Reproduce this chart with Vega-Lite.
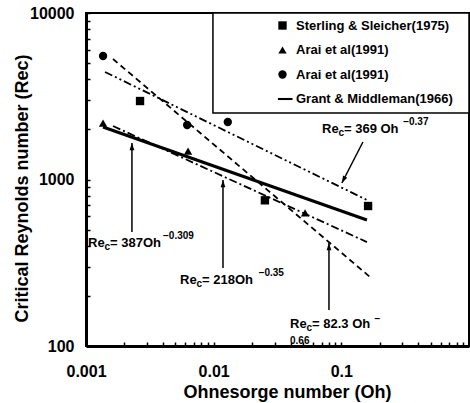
{
  "$schema": "https://vega.github.io/schema/vega-lite/v6.json",
  "width": 383,
  "height": 333,
  "autosize": {"type": "none"},
  "padding": {"left": 86, "top": 13, "right": 1, "bottom": 57},
  "background": "white",
  "config": {
    "font": "Liberation Sans",
    "view": {"stroke": "black", "strokeWidth": 2},
    "axis": {
      "grid": false,
      "domainColor": "black",
      "domainWidth": 3,
      "tickColor": "black",
      "tickWidth": 1.5,
      "tickSize": -4,
      "labelColor": "black",
      "labelFont": "Liberation Sans",
      "labelFontSize": 16,
      "labelFontWeight": "bold",
      "titleColor": "black",
      "titleFont": "Liberation Sans",
      "titleFontSize": 18,
      "titleFontWeight": "bold"
    }
  },
  "datasets": {
    "points": [
      {"series": "Sterling & Sleicher(1975)", "Oh": 0.00265, "Re": 2960},
      {"series": "Sterling & Sleicher(1975)", "Oh": 0.0252, "Re": 750},
      {"series": "Sterling & Sleicher(1975)", "Oh": 0.162, "Re": 693},
      {"series": "Arai et al(1991) [tri]", "Oh": 0.00136, "Re": 2180},
      {"series": "Arai et al(1991) [tri]", "Oh": 0.0063, "Re": 1480},
      {"series": "Arai et al(1991) [tri]", "Oh": 0.052, "Re": 630},
      {"series": "Arai et al(1991) [circ]", "Oh": 0.00136, "Re": 5520},
      {"series": "Arai et al(1991) [circ]", "Oh": 0.0062, "Re": 2125},
      {"series": "Arai et al(1991) [circ]", "Oh": 0.0129, "Re": 2214}
    ],
    "lines": [
      {"series": "grant", "Oh": 0.001359, "Re": 2067},
      {"series": "grant", "Oh": 0.1587, "Re": 571},
      {"series": "fit369", "Oh": 0.00141, "Re": 4425},
      {"series": "fit369", "Oh": 0.1587, "Re": 753},
      {"series": "fit218", "Oh": 0.001627, "Re": 2096},
      {"series": "fit218", "Oh": 0.1587, "Re": 421},
      {"series": "fit82", "Oh": 0.001627, "Re": 5295},
      {"series": "fit82", "Oh": 0.1675, "Re": 260}
    ],
    "arrows": [
      {"Oh": 0.00229, "Re": 484, "Oh2": 0.00229, "Re2": 1656},
      {"Oh": 0.01183, "Re": 294, "Oh2": 0.01183, "Re2": 993},
      {"Oh": 0.080, "Re": 164.5, "Oh2": 0.080, "Re2": 415},
      {"Oh": 0.1476, "Re": 1680, "Oh2": 0.101, "Re2": 953}
    ],
    "heads_up": [
      {"Oh": 0.00229, "Re": 1656},
      {"Oh": 0.01183, "Re": 993},
      {"Oh": 0.080, "Re": 415}
    ],
    "heads_diag": [
      {"Oh": 0.101, "Re": 953}
    ],
    "labels_main": [
      {"Oh": 0.001037, "Re": 415.5, "t": "Re"},
      {"Oh": 0.001542, "Re": 415.5, "t": "= 387Oh"},
      {"Oh": 0.005449, "Re": 249.1, "t": "Re"},
      {"Oh": 0.008102, "Re": 249.1, "t": "=  218Oh"},
      {"Oh": 0.03962, "Re": 135.6, "t": "Re"},
      {"Oh": 0.05893, "Re": 135.6, "t": "=  82.3 Oh"},
      {"Oh": 0.07055, "Re": 2011, "t": "Re"},
      {"Oh": 0.1049, "Re": 2011, "t": "=  369 Oh"}
    ],
    "labels_small": [
      {"Oh": 0.001396, "Re": 393.2, "t": "c"},
      {"Oh": 0.00401, "Re": 457.9, "t": "−0.309"},
      {"Oh": 0.007337, "Re": 235.7, "t": "c"},
      {"Oh": 0.0225, "Re": 274.4, "t": "−0.35"},
      {"Oh": 0.05335, "Re": 128.3, "t": "c"},
      {"Oh": 0.182, "Re": 145.3, "t": "−"},
      {"Oh": 0.03962, "Re": 107.2, "t": "0.66"},
      {"Oh": 0.09484, "Re": 1903, "t": "c"},
      {"Oh": 0.305, "Re": 2214, "t": "−0.37"}
    ],
    "legendbox": [
      {"Oh": 0.00987, "Re": 2507, "Oh2": 1, "Re2": 10000}
    ]
  },
  "encoding": {
    "x": {
      "field": "Oh",
      "type": "quantitative",
      "scale": {"type": "log", "domain": [0.001, 1], "nice": false},
      "axis": {
        "title": "Ohnesorge number (Oh)",
        "values": [0.001, 0.002, 0.003, 0.004, 0.005, 0.006, 0.007, 0.008, 0.009, 0.01, 0.02, 0.03, 0.04, 0.05, 0.06, 0.07, 0.08, 0.09, 0.1, 0.2, 0.3, 0.4, 0.5, 0.6, 0.7, 0.8, 0.9, 1],
        "labelExpr": "datum.value == 0.001 ? '0.001' : datum.value == 0.01 ? '0.01' : datum.value == 0.1 ? '0.1' : ''",
        "labelPadding": 21,
        "labelBaseline": "top",
        "labelFlush": false,
        "labelOverlap": false,
        "titleX": 201,
        "titleY": 46,
        "titleBaseline": "middle"
      }
    },
    "y": {
      "field": "Re",
      "type": "quantitative",
      "scale": {"type": "log", "domain": [100, 10000], "nice": false},
      "axis": {
        "title": "Critical Reynolds number (Rec)",
        "values": [100, 200, 300, 400, 500, 600, 700, 800, 900, 1000, 2000, 3000, 4000, 5000, 6000, 7000, 8000, 9000, 10000],
        "labelExpr": "(datum.value == 100 || datum.value == 1000 || datum.value == 10000) ? format(datum.value, 'd') : ''",
        "labelPadding": 16,
        "labelOverlap": false,
        "labelFlush": false,
        "titleX": -64,
        "titleY": 175,
        "titleBaseline": "middle"
      }
    }
  },
  "layer": [
    {
      "data": {"name": "legendbox"},
      "mark": {"type": "rect", "fill": "white", "stroke": "black", "strokeWidth": 1.5},
      "encoding": {"x2": {"field": "Oh2"}, "y2": {"field": "Re2"}}
    },
    {
      "data": {"name": "lines"},
      "transform": [{"filter": "datum.series == 'grant'"}],
      "mark": {"type": "line", "color": "black", "strokeWidth": 3}
    },
    {
      "data": {"name": "lines"},
      "transform": [{"filter": "datum.series == 'fit369'"}],
      "mark": {"type": "line", "color": "black", "strokeWidth": 1.8, "strokeDash": [8, 3, 2, 3, 2, 3]}
    },
    {
      "data": {"name": "lines"},
      "transform": [{"filter": "datum.series == 'fit218'"}],
      "mark": {"type": "line", "color": "black", "strokeWidth": 1.8, "strokeDash": [8, 3, 2, 3]}
    },
    {
      "data": {"name": "lines"},
      "transform": [{"filter": "datum.series == 'fit82'"}],
      "mark": {"type": "line", "color": "black", "strokeWidth": 1.8, "strokeDash": [6, 4]}
    },
    {
      "data": {"name": "arrows"},
      "mark": {"type": "rule", "color": "black", "strokeWidth": 1.5},
      "encoding": {"x2": {"field": "Oh2"}, "y2": {"field": "Re2"}}
    },
    {
      "data": {"name": "heads_up"},
      "mark": {"type": "point", "filled": true, "color": "black", "opacity": 1, "size": 64, "shape": "M0,0L-0.6,1.8L0.6,1.8Z"}
    },
    {
      "data": {"name": "heads_diag"},
      "mark": {"type": "point", "filled": true, "color": "black", "opacity": 1, "size": 64, "angle": 207, "shape": "M0,0L-0.6,1.8L0.6,1.8Z"}
    },
    {
      "data": {"name": "points"},
      "mark": {"type": "point", "filled": true, "color": "black", "opacity": 1, "size": 70},
      "encoding": {
        "shape": {
          "field": "series",
          "type": "nominal",
          "scale": {
            "domain": ["Sterling & Sleicher(1975)", "Arai et al(1991) [tri]", "Arai et al(1991) [circ]", "Grant & Middleman(1966)"],
            "range": ["square", "triangle-up", "circle", "M-1.1,-0.25H2.4V0.25H-1.1Z"]
          },
          "legend": {
            "title": null,
            "orient": "none",
            "legendX": 190,
            "legendY": 6,
            "padding": 0,
            "labelExpr": "split(datum.label, ' [')[0]",
            "labelFont": "Liberation Sans",
            "labelFontSize": 13,
            "labelFontWeight": "bold",
            "labelColor": "black",
            "labelOffset": 7,
            "labelLimit": 300,
            "rowPadding": 10.5,
            "symbolSize": 70,
            "symbolFillColor": "black",
            "symbolStrokeWidth": 0,
            "symbolOpacity": 1
          }
        }
      }
    },
    {
      "data": {"name": "labels_main"},
      "mark": {"type": "text", "align": "left", "baseline": "middle", "fontSize": 13, "fontWeight": "bold", "color": "black", "font": "Liberation Sans"},
      "encoding": {"text": {"field": "t"}}
    },
    {
      "data": {"name": "labels_small"},
      "mark": {"type": "text", "align": "left", "baseline": "middle", "fontSize": 10, "fontWeight": "bold", "color": "black", "font": "Liberation Sans"},
      "encoding": {"text": {"field": "t"}}
    }
  ]
}
